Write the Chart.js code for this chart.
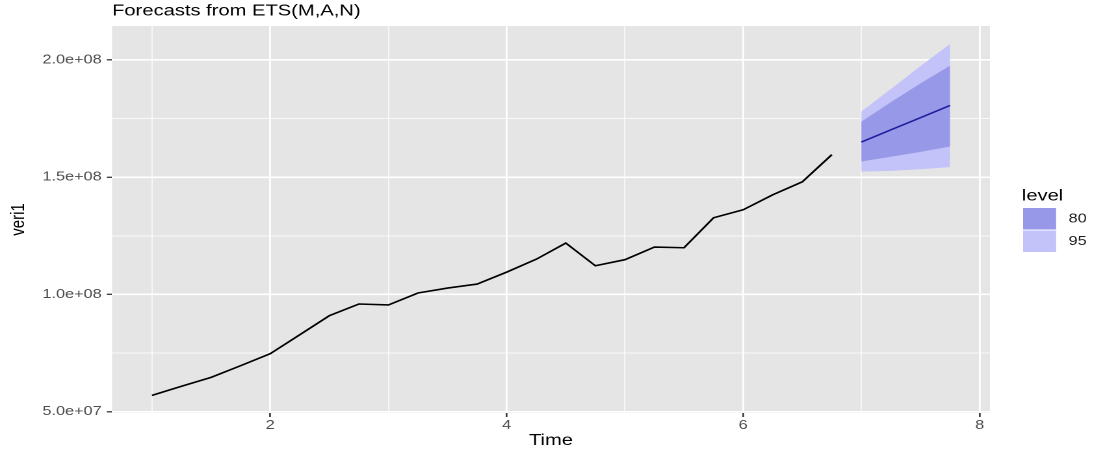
<!DOCTYPE html>
<html>
<head>
<meta charset="utf-8">
<title>Forecasts from ETS(M,A,N)</title>
<script src="https://cdn.jsdelivr.net/npm/chart.js@4.4.1/dist/chart.umd.min.js"></script>
<style>
  html, body { margin:0; padding:0; background:#fff; overflow:hidden; }
  /* the reference is stretched sideways, so the chart is drawn narrow and widened */
  #wrap { position:absolute; left:0; top:0; width:843px; height:457px; transform:scaleX(1.3); transform-origin:0 0; }
</style>
</head>
<body>
<div id="wrap"><canvas id="c"></canvas></div>
<script>
// --- DATA ---
const histTime = [1, 1.25, 1.5, 1.75, 2, 2.25, 2.5, 2.75, 3, 3.25, 3.5, 3.75,
                  4, 4.25, 4.5, 4.75, 5, 5.25, 5.5, 5.75, 6, 6.25, 6.5, 6.75];
const histValues = [56.9e6, 60.8e6, 64.6e6, 69.6e6, 74.7e6, 82.8e6, 90.9e6, 95.9e6,
                    95.5e6, 100.6e6, 102.7e6, 104.4e6, 109.5e6, 115.0e6, 121.9e6, 112.2e6,
                    114.8e6, 120.2e6, 119.9e6, 132.7e6, 136.1e6, 142.5e6, 148.0e6, 159.6e6];

const fcTime = [7, 7.25, 7.5, 7.75];
const fcMean = [165.0e6, 170.2e6, 175.4e6, 180.6e6];
const lo80 = [156.7e6, 158.7e6, 160.8e6, 163.1e6];
const hi80 = [173.7e6, 182.0e6, 190.0e6, 197.6e6];
const lo95 = [152.4e6, 152.7e6, 153.4e6, 154.3e6];
const hi95 = [178.0e6, 187.6e6, 197.4e6, 206.9e6];

const levels = ["80", "95"];

// axis ticks (major ones get labels)
const xMajor = [2, 4, 6, 8];
const xMinor = [1, 3, 5, 7];
const yMajor = [5e7, 1e8, 1.5e8, 2e8];
const yMinor = [7.5e7, 1.25e8, 1.75e8];

// --- COLOURS ---
const col80 = "#9898e8";
const col95 = "#c3c3fa";
const colMean = "#2020a0";
const panelBg = "#e5e5e5";

function pts(xs, ys){ return xs.map((x,i)=>({x:x, y:ys[i]})); }

function fmtSci(v){
  const [m, e] = v.toExponential(1).split("e");
  return m + "e" + e[0] + e.slice(1).padStart(2, "0");
}

const FONT = "'Liberation Sans', Arial, sans-serif";

// --- PLUGINS: panel background, title, legend ---
const panelPlugin = {
  id: "panel",
  beforeDraw(chart){
    const a = chart.chartArea, ctx = chart.ctx;
    ctx.save();
    ctx.fillStyle = panelBg;
    ctx.fillRect(a.left, a.top, a.right - a.left, a.bottom - a.top);
    ctx.restore();
  },
  afterDraw(chart){
    const ctx = chart.ctx, a = chart.chartArea;
    ctx.save();
    // title
    ctx.fillStyle = "#000";
    ctx.font = "15.5px " + FONT;
    ctx.textAlign = "left";
    ctx.textBaseline = "alphabetic";
    ctx.fillText("Forecasts from ETS(M,A,N)", a.left, 15.7);
    // legend
    ctx.font = "15.5px " + FONT;
    ctx.textBaseline = "middle";
    ctx.fillText("level", 786, 196);
    const boxCols = [col80, col95];
    ctx.font = "12.5px " + FONT;
    levels.forEach((lv, i)=>{
      const y = 208 + i * 22.5;
      ctx.fillStyle = boxCols[i];
      ctx.fillRect(787, y, 25.4, 21.5);
      ctx.fillStyle = "#1a1a1a";
      ctx.fillText(lv, 822, y + 11);
    });
    ctx.restore();
  }
};

// --- CHART ---
const isMajorX = v => xMajor.includes(v);
const isMajorY = v => yMajor.some(m => Math.abs(m - v) < 1);

new Chart(document.getElementById("c"), {
  type: "line",
  data: {
    datasets: [
      { label: "hi95", data: pts(fcTime, hi95), fill: "+1", backgroundColor: col95, borderWidth: 0, pointRadius: 0, order: 4 },
      { label: "lo95", data: pts(fcTime, lo95), fill: false, borderWidth: 0, pointRadius: 0, order: 4 },
      { label: "hi80", data: pts(fcTime, hi80), fill: "+1", backgroundColor: col80, borderWidth: 0, pointRadius: 0, order: 3 },
      { label: "lo80", data: pts(fcTime, lo80), fill: false, borderWidth: 0, pointRadius: 0, order: 3 },
      { label: "mean", data: pts(fcTime, fcMean), borderColor: colMean, borderWidth: 1.5, pointRadius: 0, fill: false, order: 1 },
      { label: "veri1", data: pts(histTime, histValues), borderColor: "#000", borderWidth: 1.6, pointRadius: 0, fill: false, order: 1 }
    ]
  },
  options: {
    responsive: true,
    maintainAspectRatio: false,
    devicePixelRatio: 2,
    animation: false,
    layout: { padding: { top: 26, right: 81.5, left: 0, bottom: 0 } },
    elements: { line: { tension: 0 } },
    plugins: {
      legend: { display: false },
      tooltip: { enabled: false },
      title: { display: false }
    },
    scales: {
      x: {
        type: "linear",
        min: 0.6625,
        max: 8.0875,
        afterBuildTicks: s => { s.ticks = xMinor.concat(xMajor).sort((a,b)=>a-b).map(v=>({value:v})); },
        afterFit: s => { s.height = 44; },
        border: { display: false },
        grid: {
          color: "#ffffff",
          lineWidth: c => isMajorX(c.tick.value) ? 1.4 : 0.7,
          tickLength: 4,
          tickWidth: 1.3,
          tickColor: c => isMajorX(c.tick.value) ? "#333333" : "rgba(0,0,0,0)"
        },
        ticks: {
          autoSkip: false,
          maxRotation: 0,
          padding: 1,
          color: "#4d4d4d",
          font: { family: FONT, size: 12.5 },
          callback: v => isMajorX(v) ? String(v) : ""
        },
        title: { display: true, text: "Time", color: "#000", font: { family: FONT, size: 15.5 }, padding: { top: 0, bottom: 7 } }
      },
      y: {
        type: "linear",
        min: 4.94e7,
        max: 2.145e8,
        afterBuildTicks: s => { s.ticks = yMajor.concat(yMinor).sort((a,b)=>a-b).map(v=>({value:v})); },
        afterFit: s => { s.width = 86.2; },
        border: { display: false },
        grid: {
          color: "#ffffff",
          lineWidth: c => isMajorY(c.tick.value) ? 1.6 : 0.8,
          tickLength: 4,
          tickWidth: 1.3,
          tickColor: c => isMajorY(c.tick.value) ? "#333333" : "rgba(0,0,0,0)"
        },
        ticks: {
          autoSkip: false,
          padding: 4,
          color: "#4d4d4d",
          font: { family: FONT, size: 12.5 },
          callback: v => isMajorY(v) ? fmtSci(v) : ""
        },
        title: { display: true, text: "veri1", color: "#000", font: { family: FONT, size: 15 }, padding: { top: 5.5, bottom: 0 } }
      }
    }
  },
  plugins: [panelPlugin]
});
</script>
</body>
</html>
